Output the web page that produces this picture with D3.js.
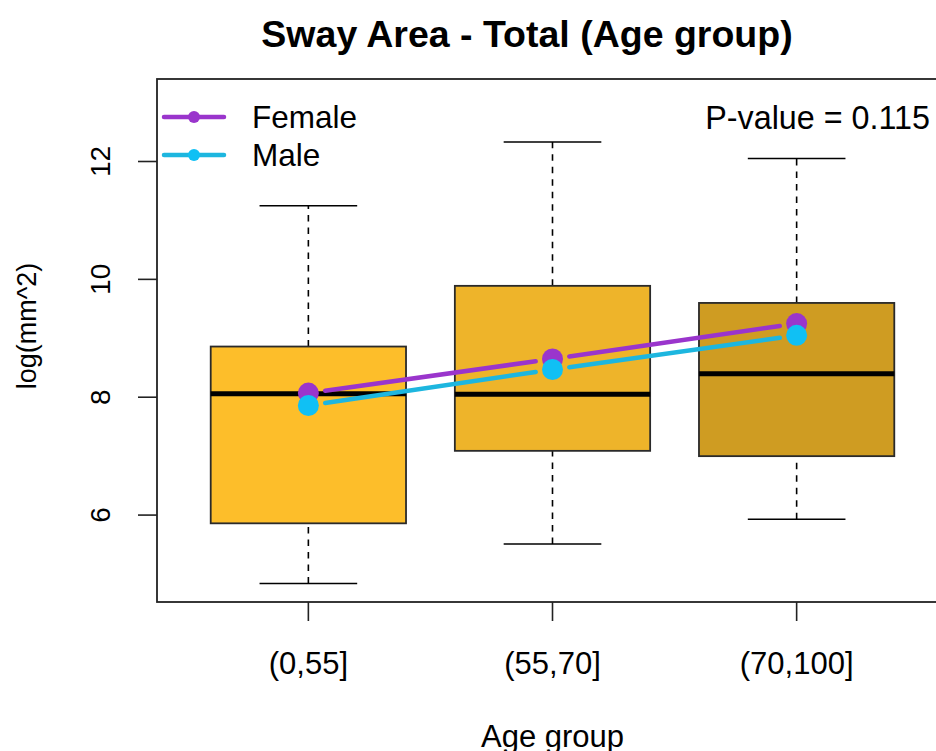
<!DOCTYPE html>
<html>
<head>
<meta charset="utf-8">
<script src="https://cdn.jsdelivr.net/npm/d3@7"></script>
<style>
  body { margin: 0; background: #fff; }
  svg text { font-family: "Liberation Sans", Arial, sans-serif; fill: #000; }
</style>
</head>
<body>
<div id="chart"></div>
<script>
// box stats per age group (log mm^2)
var groups   = ["(0,55]", "(55,70]", "(70,100]"];
var whiskLo  = [4.84, 5.51, 5.93];
var q1       = [5.86, 7.09, 7.00];
var median   = [8.06, 8.05, 8.40];
var q3       = [8.86, 9.89, 9.60];
var whiskHi  = [11.25, 12.33, 12.05];
var boxFill  = ["#FDBE2A", "#EEB42A", "#CF9C22"];

// group means by sex
var female = [8.07, 8.65, 9.25];
var male   = [7.86, 8.47, 9.05];
var yTicks = [6, 8, 10, 12];

var W = 936, H = 751;
var plotL = 157, plotT = 79, plotB = 602, plotR = 948;

var svg = d3.select("#chart").append("svg")
    .attr("width", W).attr("height", H);

// R style: x from 0.5-3.5 plus 4%, y data range plus 4%
var x = d3.scaleLinear().domain([0.38, 3.62]).range([plotL, plotR]);
var y = d3.scaleLinear().domain([4.525, 13.40]).range([plotB, plotT]);

var boxes = groups.map((g, i) => ({
  i: i + 1, lo: whiskLo[i], q1: q1[i], med: median[i], q3: q3[i], hi: whiskHi[i], fill: boxFill[i]
}));

const bg = svg.append("g").attr("class", "boxes");

// dashed whiskers
bg.selectAll(".whisk").data(boxes.flatMap(d => [[d.i, d.lo, d.q1], [d.i, d.q3, d.hi]]))
  .join("line")
    .attr("x1", d => x(d[0])).attr("x2", d => x(d[0]))
    .attr("y1", d => y(d[1])).attr("y2", d => y(d[2]))
    .attr("stroke", "#000").attr("stroke-width", 1.6)
    .attr("stroke-dasharray", "6.5,6");

// whisker caps
bg.selectAll(".cap").data(boxes.flatMap(d => [[d.i, d.lo], [d.i, d.hi]]))
  .join("line")
    .attr("x1", d => x(d[0] - 0.2)).attr("x2", d => x(d[0] + 0.2))
    .attr("y1", d => y(d[1])).attr("y2", d => y(d[1]))
    .attr("stroke", "#000").attr("stroke-width", 1.6);

bg.selectAll("rect").data(boxes)
  .join("rect")
    .attr("x", d => x(d.i - 0.4))
    .attr("width", d => x(d.i + 0.4) - x(d.i - 0.4))
    .attr("y", d => y(d.q3))
    .attr("height", d => y(d.q1) - y(d.q3))
    .attr("fill", d => d.fill)
    .attr("stroke", "#2a2a2a").attr("stroke-width", 1.8);

bg.selectAll(".med").data(boxes)
  .join("line")
    .attr("x1", d => x(d.i - 0.4)).attr("x2", d => x(d.i + 0.4))
    .attr("y1", d => y(d.med)).attr("y2", d => y(d.med))
    .attr("stroke", "#000").attr("stroke-width", 5);

// mean lines, type="b" (gap round the points)
function gapSegs(vals) {
  var segs = [];
  for (var k = 0; k < vals.length - 1; k++) {
    var x0 = x(k + 1), y0 = y(vals[k]), x1 = x(k + 2), y1 = y(vals[k + 1]);
    var dx = x1 - x0, dy = y1 - y0, len = Math.sqrt(dx * dx + dy * dy);
    var g = 17 / len;
    segs.push([x0 + dx * g, y0 + dy * g, x1 - dx * g, y1 - dy * g]);
  }
  return segs;
}

var series = [
  { name: "Female", vals: female, col: "#9A35CC", line: "#9A35CC" },
  { name: "Male",   vals: male,   col: "#10C0F4", line: "#1DB6DF" }
];

series.forEach(s => {
  const g = svg.append("g").attr("class", "means");
  g.selectAll("line").data(gapSegs(s.vals))
    .join("line")
      .attr("x1", d => d[0]).attr("y1", d => d[1])
      .attr("x2", d => d[2]).attr("y2", d => d[3])
      .attr("stroke", s.line).attr("stroke-width", 4.5)
      .attr("stroke-linecap", "round");
  g.selectAll("circle").data(s.vals)
    .join("circle")
      .attr("cx", (d, i) => x(i + 1)).attr("cy", d => y(d))
      .attr("r", 10.5).attr("fill", s.col);
});

// frame (right side is off the page)
svg.append("rect")
  .attr("x", plotL).attr("y", plotT)
  .attr("width", plotR - plotL).attr("height", plotB - plotT)
  .attr("fill", "none").attr("stroke", "#222").attr("stroke-width", 1.8);

// y axis
const ya = svg.append("g").attr("class", "yaxis");
ya.selectAll("line").data(yTicks).join("line")
  .attr("x1", plotL - 19).attr("x2", plotL)
  .attr("y1", d => y(d)).attr("y2", d => y(d))
  .attr("stroke", "#222").attr("stroke-width", 1.6);
ya.selectAll("text").data(yTicks).join("text")
  .attr("transform", d => `translate(110,${y(d)}) rotate(-90)`)
  .attr("text-anchor", "middle")
  .style("font-size", "28px")
  .text(d => d);

// x axis
const xa = svg.append("g").attr("class", "xaxis");
xa.selectAll("line").data(groups).join("line")
  .attr("x1", (d, i) => x(i + 1)).attr("x2", (d, i) => x(i + 1))
  .attr("y1", plotB).attr("y2", plotB + 19)
  .attr("stroke", "#222").attr("stroke-width", 1.6);
xa.selectAll("text").data(groups).join("text")
  .attr("x", (d, i) => x(i + 1)).attr("y", 674)
  .attr("text-anchor", "middle")
  .style("font-size", "31px")
  .text(d => d);

svg.append("text")
  .attr("x", (plotL + plotR) / 2).attr("y", 747)
  .attr("text-anchor", "middle")
  .style("font-size", "31px")
  .text("Age group");

svg.append("text")
  .attr("transform", "translate(36,326) rotate(-90)")
  .attr("text-anchor", "middle")
  .style("font-size", "27px")
  .text("log(mm^2)");

svg.append("text")
  .attr("x", 527).attr("y", 47)
  .attr("text-anchor", "middle")
  .style("font-size", "37.5px").style("font-weight", "bold")
  .text("Sway Area - Total (Age group)");

svg.append("text")
  .attr("x", 930).attr("y", 129)
  .attr("text-anchor", "end")
  .style("font-size", "32.3px")
  .text("P-value = 0.115");

// legend
const lg = svg.append("g").attr("class", "legend")
  .selectAll("g").data(series).join("g")
  .attr("transform", (d, i) => `translate(0,${117 + i * 38})`);
lg.append("line")
  .attr("x1", 164).attr("x2", 224).attr("y1", 0).attr("y2", 0)
  .attr("stroke", d => d.line).attr("stroke-width", 4.5)
  .attr("stroke-linecap", "round");
lg.append("circle")
  .attr("cx", 194).attr("cy", 0).attr("r", 6)
  .attr("fill", d => d.col);
lg.append("text")
  .attr("x", 252).attr("y", 11)
  .style("font-size", "31.5px")
  .text(d => d.name);
</script>
</body>
</html>
